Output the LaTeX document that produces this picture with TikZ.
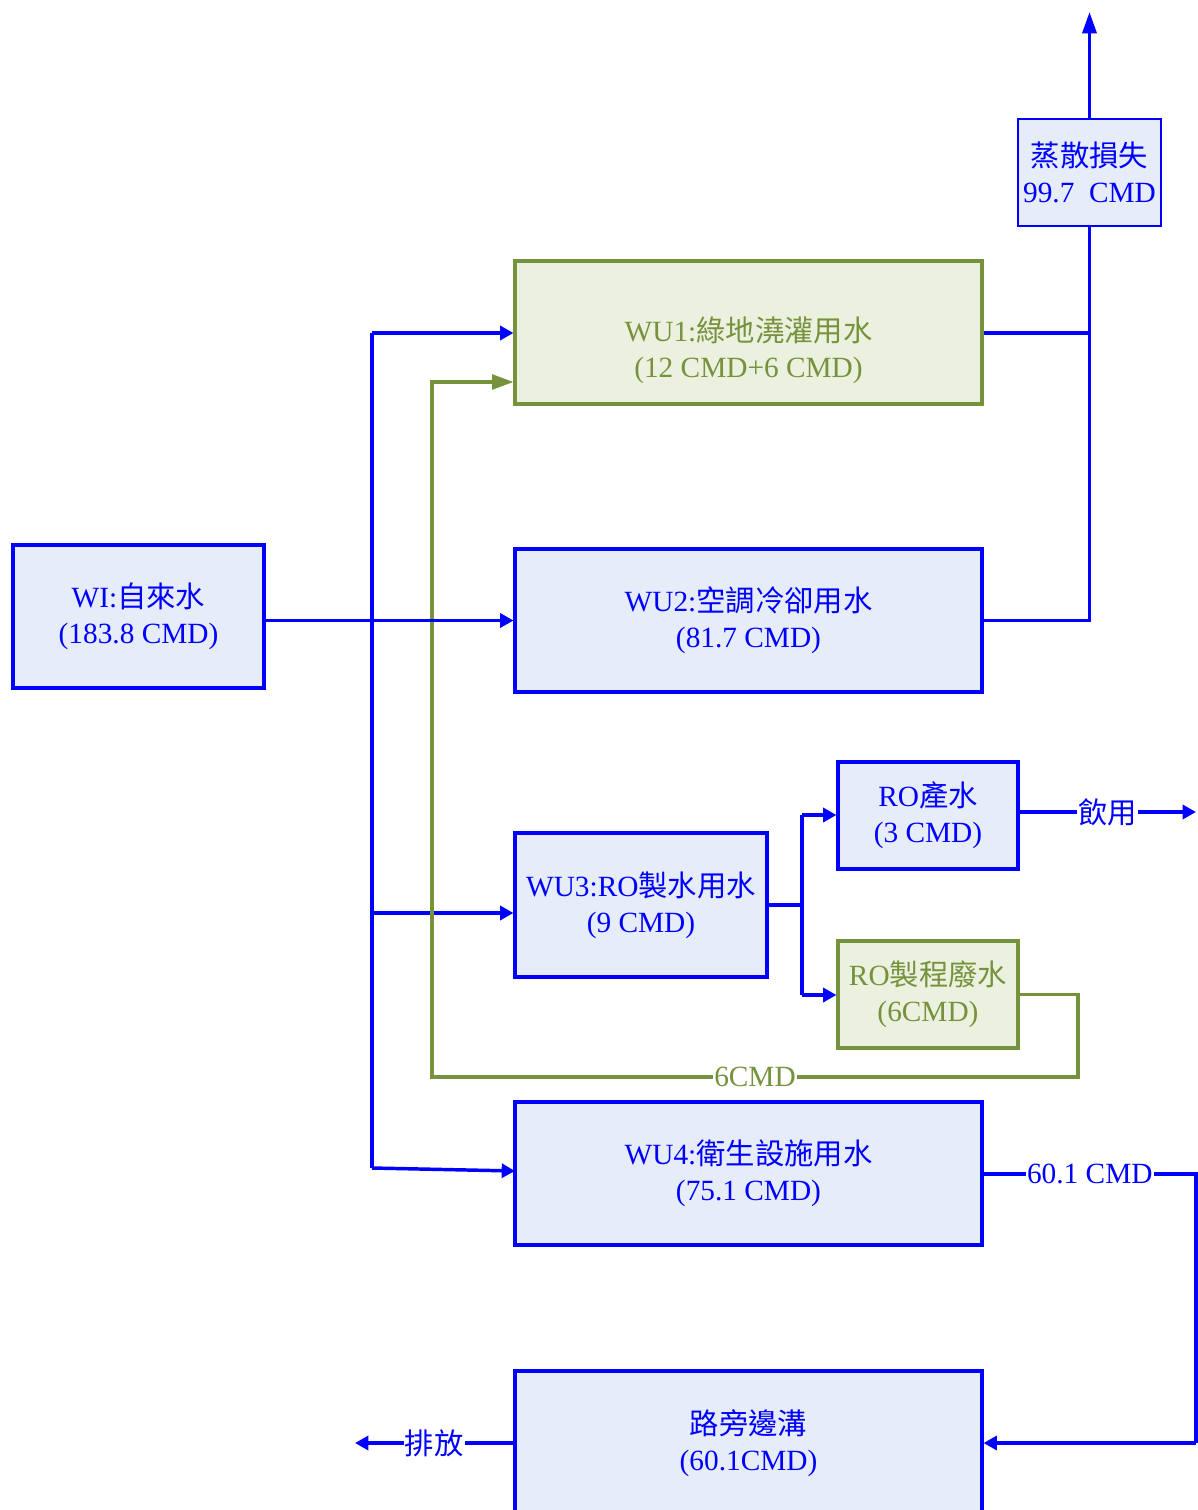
\documentclass[tikz,border=0pt]{standalone}
\usepackage{fontspec}
\setmainfont{Liberation Serif}
\newfontfamily\cjk{Noto Sans CJK TC}
\usetikzlibrary{arrows.meta}
\definecolor{bl}{RGB}{0,0,255}
\definecolor{blfill}{RGB}{230,236,248}
\definecolor{ol}{RGB}{118,146,60}
\definecolor{olfill}{RGB}{235,241,222}
\newcommand\C[1]{{\cjk #1}}
\tikzset{
  bbox/.style={draw=bl, fill=blfill, line width=2.3pt, text=bl, align=center, inner sep=0pt, font=\fontsize{22}{27}\selectfont},
  gbox/.style={draw=ol, fill=olfill, line width=2.3pt, text=ol, align=center, inner sep=0pt, font=\fontsize{22}{27}\selectfont},
  bline/.style={draw=bl, line width=2.6pt},
  gline/.style={draw=ol, line width=2.5pt},
  barr/.style={bline, -{Triangle[length=10pt,width=10.5pt]}},
  garr/.style={gline, -{Triangle[length=16pt,width=11pt]}},
  lab/.style={fill=white, inner sep=1pt, font=\fontsize{22}{27}\selectfont}
}
\begin{document}
\begin{tikzpicture}[x=0.75pt, y=-0.75pt]
\useasboundingbox (0,0) rectangle (1198,1510);
% boxes
\node[bbox, minimum width=251*0.75pt, minimum height=143*0.75pt] (WI) at (138.5,616.5) {WI:\C{自來水}\\(183.8 CMD)};
\node[gbox, minimum width=467*0.75pt, minimum height=143*0.75pt] (WU1) at (748.5,332.5) {};
\node[gbox, draw=none, fill=none] (WU1t) at (748.5,350.5) {WU1:\C{綠地澆灌用水}\\(12 CMD+6 CMD)};
\node[bbox, minimum width=467*0.75pt, minimum height=143*0.75pt] (WU2) at (748.5,620.5) {WU2:\C{空調冷卻用水}\\(81.7 CMD)};
\node[bbox, minimum width=252*0.75pt, minimum height=144*0.75pt] (WU3) at (641,905) {WU3:RO\C{製水用水}\\(9 CMD)};
\node[bbox, minimum width=467*0.75pt, minimum height=143*0.75pt] (WU4) at (748.5,1173.5) {WU4:\C{衛生設施用水}\\(75.1 CMD)};
\node[bbox, minimum width=467*0.75pt, minimum height=144*0.75pt] (RD) at (748.5,1443) {\C{路旁邊溝}\\(60.1CMD)};
\node[bbox, line width=1pt, minimum width=143*0.75pt, minimum height=107*0.75pt] (EV) at (1089.5,172.5) {\C{蒸散損失}\\99.7\ \ CMD};
\node[bbox, minimum width=180*0.75pt, minimum height=107*0.75pt] (ROP) at (928,815.5) {RO\C{產水}\\(3 CMD)};
\node[gbox, minimum width=180*0.75pt, minimum height=107*0.75pt] (ROW) at (928,994.5) {RO\C{製程廢水}\\(6CMD)};
% coordinates
\coordinate (t1) at (372,333);
\coordinate (t3) at (372,913);
\coordinate (t4) at (372,1168);
\coordinate (vtop) at (1089.5,12);
\coordinate (s1) at (802,815);
\coordinate (s2) at (802,995);
\coordinate (g1) at (1078,1077);
\coordinate (g2) at (432,1077);
\coordinate (g3) at (432,382);
\coordinate (dr) at (1196,812);
\coordinate (c1) at (1196,1174);
\coordinate (c2) at (1196,1443);
\coordinate (out) at (355,1443);
% blue trunk
\draw[bline] (t1) -- (t4);
\draw[barr] (t1) -- (WU1.west |- t1);
\draw[barr] (t3) -- (WU3.west |- t3);
\draw[barr] (t4) -- (515,1171);
% green recycle
\draw[garr] (ROW.east) -| (g1) -- node[lab, text=ol, pos=0.50] {6CMD} (g2) -- (g3) -- (WU1.west |- g3);
\draw[barr] (WI.east |- WU2.west) -- (WU2.west);
% evaporation
\draw[bline] (WU1.east |- t1) -- (EV.south |- t1);
\draw[bline] (WU2.east) -| (EV.south);
\draw[bline, -{Triangle[length=16pt,width=10.5pt]}] (EV.north) -- (vtop);
% RO split
\draw[bline] (WU3.east) -- (802,905);
\draw[bline] (s1) -- (s2);
\draw[barr] (s1) -- (ROP.west |- s1);
\draw[barr] (s2) -- (ROW.west |- s2);
\draw[barr] (ROP.east |- dr) -- node[lab, text=bl, pos=0.5] {\C{飲用}} (dr);
% drainage
\draw[bline] (WU4.east |- c1) -- node[lab, text=bl, pos=0.5] {60.1 CMD} (c1) -- (c2);
\draw[barr] (c2) -- (RD.east);
\draw[barr] (RD.west) -- node[lab, text=bl, pos=0.5] {\C{排放}} (out);
\end{tikzpicture}
\end{document}
